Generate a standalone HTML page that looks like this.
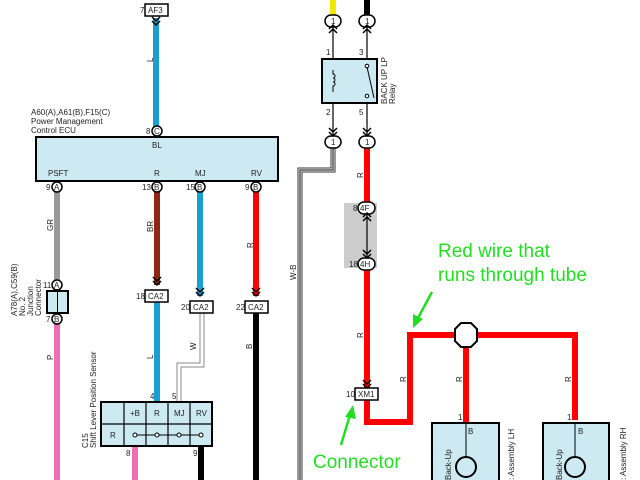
<!DOCTYPE html>
<html><head><meta charset="utf-8"><style>
html,body{margin:0;padding:0;background:#fff}
svg{display:block}
text{font-family:"Liberation Sans",sans-serif;font-size:8px;fill:#222}
.g{fill:#22dd22;font-size:19px}
</style></head><body>
<svg width="640" height="480" viewBox="0 0 640 480" xmlns="http://www.w3.org/2000/svg">
<defs>
<g id="chev"><path d="M-4,-3 L0,1 L4,-3 M-4,1 L0,5 L4,1" fill="none" stroke="#000" stroke-width="1.5"/></g>
</defs>
<!-- wires -->
<line x1="156" y1="18" x2="156" y2="128" stroke="#1aa0cf" stroke-width="6"/>
<line x1="57" y1="192" x2="57" y2="281" stroke="#999" stroke-width="6"/>
<line x1="157" y1="192" x2="157" y2="285" stroke="#8b2a0c" stroke-width="6"/>
<line x1="200" y1="192" x2="200" y2="296" stroke="#1aa0cf" stroke-width="6"/>
<line x1="256" y1="192" x2="256" y2="296" stroke="#f00" stroke-width="6"/>
<line x1="57" y1="323" x2="57" y2="480" stroke="#f06fb4" stroke-width="6"/>
<line x1="157" y1="302" x2="157" y2="402" stroke="#1aa0cf" stroke-width="6"/>
<line x1="256" y1="313" x2="256" y2="480" stroke="#000" stroke-width="6"/>
<line x1="135" y1="446" x2="135" y2="480" stroke="#f06fb4" stroke-width="6"/>
<line x1="201" y1="446" x2="201" y2="480" stroke="#000" stroke-width="6"/>
<!-- W wire -->
<path d="M202,313 V365 H179 V402" fill="none" stroke="#888" stroke-width="5"/>
<path d="M202,313 V365 H179 V402" fill="none" stroke="#fff" stroke-width="3"/>
<!-- W-B -->
<path d="M333,147 V170 H300 V480" fill="none" stroke="#333" stroke-width="5"/>
<path d="M333,147 V170 H300 V480" fill="none" stroke="#fff" stroke-width="3"/>
<path d="M333,147 V170 H300 V480" fill="none" stroke="#000" stroke-width="1"/>
<!-- relay wires -->
<line x1="333" y1="0" x2="333" y2="15" stroke="#f5e600" stroke-width="6"/>
<line x1="367" y1="0" x2="367" y2="15" stroke="#000" stroke-width="6"/>
<line x1="333" y1="27" x2="333" y2="137" stroke="#000" stroke-width="1.2"/>
<line x1="367" y1="27" x2="367" y2="137" stroke="#000" stroke-width="1.2"/>
<!-- gray tube -->
<rect x="344" y="203" width="33" height="65" fill="#ccc"/>
<line x1="367" y1="147" x2="367" y2="203" stroke="#f00" stroke-width="6"/>
<line x1="367" y1="213" x2="367" y2="259" stroke="#000" stroke-width="1.2"/>
<path d="M367,269 V422 H410 V335 H575 V420" fill="none" stroke="#f00" stroke-width="6"/>
<line x1="466" y1="335" x2="466" y2="423" stroke="#f00" stroke-width="6"/>
<polygon points="461,323 471,323 477,329 477,341 471,347 461,347 455,341 455,329" fill="#fff" stroke="#000" stroke-width="2"/>
<!-- AF3 -->
<use href="#chev" x="156" y="20"/>
<rect x="145" y="4" width="23" height="12" fill="#fff" stroke="#000" stroke-width="1.5"/>
<text x="148" y="13">AF3</text><text x="140" y="13">7</text>
<!-- ECU -->
<text x="31" y="115">A60(A),A61(B),F15(C)</text>
<text x="31" y="124">Power Management</text>
<text x="31" y="133">Control ECU</text>
<rect x="36" y="137" width="242" height="44" fill="#cdeaf3" stroke="#000" stroke-width="2"/>
<text x="152" y="148">BL</text>
<text x="48" y="176">PSFT</text><text x="154" y="176">R</text><text x="195" y="176">MJ</text><text x="251" y="176">RV</text>
<g fill="#fff" stroke="#000" stroke-width="1.5">
<circle cx="157" cy="131" r="5"/><circle cx="57" cy="187" r="5"/><circle cx="157" cy="187" r="5"/><circle cx="200" cy="187" r="5"/><circle cx="256" cy="187" r="5"/>
</g>
<text x="154" y="134">C</text><text x="54" y="190">A</text><text x="154" y="190">B</text><text x="197" y="190">B</text><text x="253" y="190">B</text>
<text x="146" y="134">8</text><text x="46" y="190">9</text><text x="142" y="190">13</text><text x="186" y="190">15</text><text x="245" y="190">9</text>
<!-- wire labels -->
<text transform="translate(153,62) rotate(-90)">L</text>
<text transform="translate(53,231) rotate(-90)">GR</text>
<text transform="translate(153,232) rotate(-90)">BR</text>
<text transform="translate(253,248) rotate(-90)">R</text>
<text transform="translate(53,360) rotate(-90)">P</text>
<text transform="translate(153,359) rotate(-90)">L</text>
<text transform="translate(196,350) rotate(-90)">W</text>
<text transform="translate(252,349) rotate(-90)">B</text>
<text transform="translate(296,280) rotate(-90)">W-B</text>
<text transform="translate(363,178) rotate(-90)">R</text>
<text transform="translate(363,338) rotate(-90)">R</text>
<text transform="translate(406,382) rotate(-90)">R</text>
<text transform="translate(462,382) rotate(-90)">R</text>
<text transform="translate(571,382) rotate(-90)">R</text>
<!-- junction connector -->
<text transform="translate(17,316) rotate(-90)">A78(A),C59(B)</text>
<text transform="translate(25,316) rotate(-90)">No. 2</text>
<text transform="translate(33,316) rotate(-90)">Junction</text>
<text transform="translate(41,316) rotate(-90)">Connector</text>
<rect x="47" y="291" width="21" height="22" fill="#cdeaf3" stroke="#000" stroke-width="2"/>
<line x1="57.5" y1="291" x2="57.5" y2="313" stroke="#000"/>
<circle cx="57" cy="285" r="5" fill="#fff" stroke="#000" stroke-width="1.5"/>
<circle cx="57" cy="319" r="5" fill="#fff" stroke="#000" stroke-width="1.5"/>
<text x="54" y="288">A</text><text x="54" y="322">B</text><text x="43" y="288">11</text><text x="46" y="322">7</text>
<!-- CA2 -->
<use href="#chev" x="157" y="280"/><use href="#chev" x="200" y="291"/><use href="#chev" x="256" y="291"/>
<g fill="#fff" stroke="#000" stroke-width="1.5">
<rect x="145" y="290" width="23" height="12"/><rect x="190" y="301" width="23" height="12"/><rect x="245" y="301" width="23" height="12"/>
</g>
<text x="148" y="299">CA2</text><text x="193" y="310">CA2</text><text x="248" y="310">CA2</text>
<text x="136" y="299">18</text><text x="181" y="310">20</text><text x="236" y="310">22</text>
<!-- shift sensor -->
<text transform="translate(88,448) rotate(-90)">C15</text>
<text transform="translate(96,448) rotate(-90)">Shift Lever Position Sensor</text>
<rect x="101" y="402" width="111" height="44" fill="#cdeaf3" stroke="#000" stroke-width="2"/>
<g stroke="#000" stroke-width="1.2">
<line x1="124" y1="402" x2="124" y2="446"/><line x1="146" y1="402" x2="146" y2="446"/><line x1="168" y1="402" x2="168" y2="446"/><line x1="190" y1="402" x2="190" y2="446"/>
<line x1="101" y1="424" x2="212" y2="424"/>
<line x1="135" y1="435" x2="201" y2="435" stroke-width="1"/>
</g>
<g fill="#fff" stroke="#000"><circle cx="135" cy="435" r="2"/><circle cx="157" cy="435" r="2"/><circle cx="179" cy="435" r="2"/><circle cx="201" cy="435" r="2"/></g>
<text x="130" y="416">+B</text><text x="154" y="416">R</text><text x="174" y="416">MJ</text><text x="196" y="416">RV</text><text x="110" y="438">R</text>
<text x="150" y="399">4</text><text x="172" y="399">5</text><text x="126" y="456">8</text><text x="193" y="456">9</text>
<!-- relay -->
<g fill="#fff" stroke="#000" stroke-width="1.5">
<rect x="325" y="15" width="16" height="12" rx="6"/><rect x="359" y="15" width="16" height="12" rx="6"/>
<rect x="325" y="136" width="16" height="12" rx="6"/><rect x="359" y="136" width="16" height="12" rx="6"/>
</g>
<text x="331" y="24">1</text><text x="365" y="24">1</text><text x="331" y="145">1</text><text x="365" y="145">1</text>
<use href="#chev" x="333" y="30" transform="rotate(180 333 30)"/><use href="#chev" x="367" y="30" transform="rotate(180 367 30)"/>
<use href="#chev" x="333" y="131"/><use href="#chev" x="367" y="131"/>
<text x="326" y="55">1</text><text x="359" y="55">3</text><text x="326" y="115">2</text><text x="359" y="115">5</text>
<rect x="322" y="59" width="55" height="44" fill="#cdeaf3" stroke="#000" stroke-width="2"/>
<path d="M333,70 v4 a2,2 0 0 1 0,4 a2,2 0 0 1 0,4 a2,2 0 0 1 0,4 v6" fill="none" stroke="#000"/>
<circle cx="367" cy="66" r="1.8" fill="#fff" stroke="#000"/><circle cx="367" cy="96" r="1.8" fill="#fff" stroke="#000"/>
<line x1="367" y1="67" x2="374" y2="98" stroke="#000"/>
<text transform="translate(387,104) rotate(-90)">BACK UP LP</text>
<text transform="translate(395,104) rotate(-90)">Relay</text>
<!-- 4F 4H -->
<g fill="#fff" stroke="#000" stroke-width="1.5"><rect x="358" y="202" width="17" height="12" rx="6"/><rect x="358" y="258" width="17" height="12" rx="6"/></g>
<text x="360" y="211">4F</text><text x="360" y="267">4H</text><text x="353" y="211">8</text><text x="349" y="267">18</text>
<use href="#chev" x="367" y="218" transform="rotate(180 367 218)"/><use href="#chev" x="367" y="253"/>
<!-- XM1 -->
<use href="#chev" x="367" y="383"/>
<rect x="355" y="388" width="23" height="12" fill="#fff" stroke="#000" stroke-width="1.5"/>
<text x="358" y="397">XM1</text><text x="346" y="397">10</text>
<!-- lamps -->
<g>
<rect x="432" y="423" width="67" height="60" fill="#cdeaf3" stroke="#000" stroke-width="2"/>
<line x1="466" y1="423" x2="466" y2="457" stroke="#000"/>
<circle cx="466" cy="467" r="10" fill="#cdeaf3" stroke="#000" stroke-width="2"/>
<text x="468" y="434">B</text><text x="458" y="420">1</text>
<text transform="translate(451,480) rotate(-90)">Back-Up</text>
<text transform="translate(514,480) rotate(-90)">: Assembly LH</text>
<rect x="543" y="423" width="66" height="60" fill="#cdeaf3" stroke="#000" stroke-width="2"/>
<line x1="575" y1="423" x2="575" y2="457" stroke="#000"/>
<circle cx="575" cy="467" r="10" fill="#cdeaf3" stroke="#000" stroke-width="2"/>
<text x="578" y="434">B</text><text x="567" y="420">1</text>
<text transform="translate(562,480) rotate(-90)">Back-Up</text>
<text transform="translate(626,480) rotate(-90)">: Assembly RH</text>
</g>
<!-- annotations -->
<text x="438" y="257" class="g">Red wire that</text>
<text x="438" y="281" class="g">runs through tube</text>
<line x1="432" y1="292" x2="418" y2="318" stroke="#22dd22" stroke-width="2.5"/>
<polygon points="413,328 413,314 423,319" fill="#22dd22"/>
<text x="313" y="468" class="g">Connector</text>
<line x1="341" y1="445" x2="350" y2="415" stroke="#22dd22" stroke-width="2.5"/>
<polygon points="353,405 345,417 356,419" fill="#22dd22"/>
</svg>
</body></html>
